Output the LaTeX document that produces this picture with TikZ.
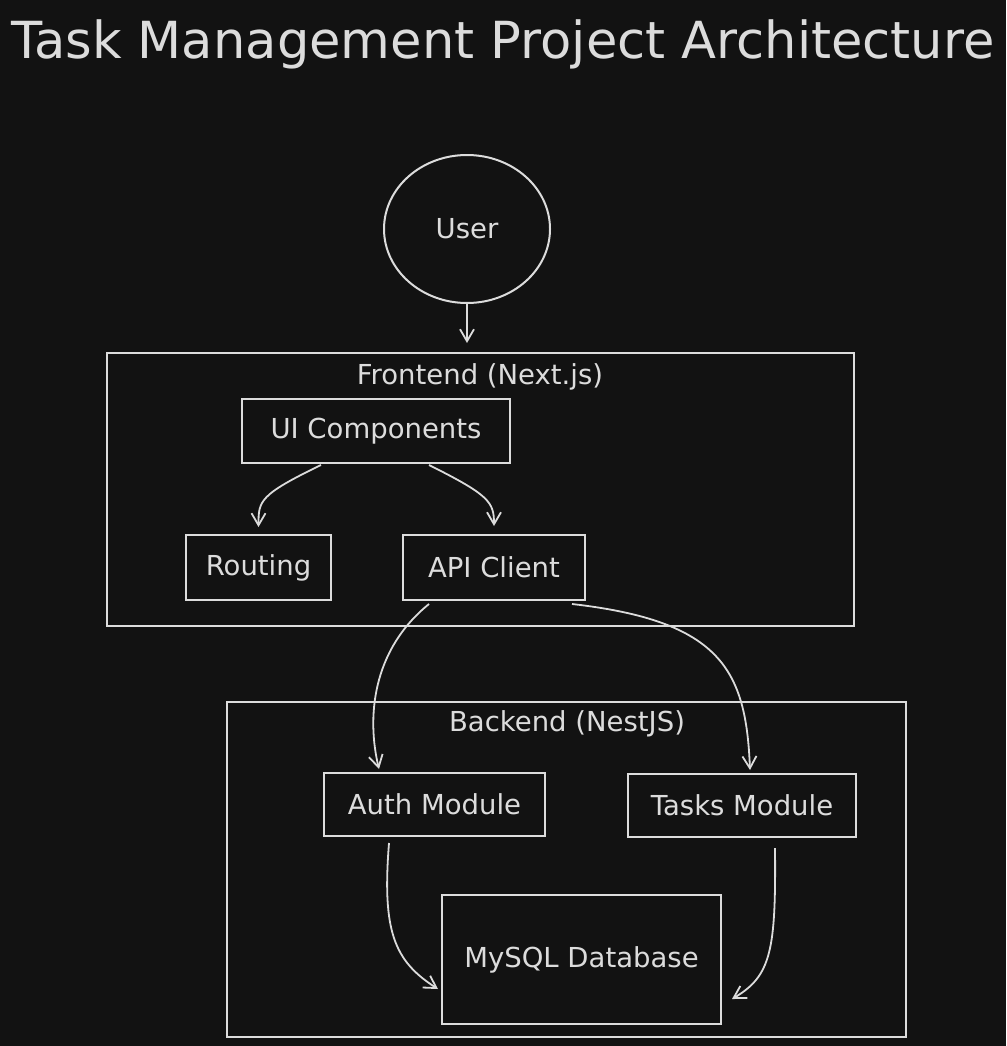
\documentclass[tikz,border=0pt]{standalone}
\usepackage{fontspec}
\usepackage{graphicx}
\setmainfont{DejaVu Sans}
\usetikzlibrary{arrows.meta,shapes.geometric}
\definecolor{bgcol}{HTML}{121212}
\definecolor{inkcol}{HTML}{DCDCDC}
\tikzset{
  box/.style={draw=inkcol, line width=2pt, rectangle, inner sep=0pt, text=inkcol, font=\fontsize{27.5}{32}\selectfont},
  container/.style={draw=inkcol, line width=2pt, rectangle, inner sep=0pt},
  lbl/.style={text=inkcol, inner sep=0pt, font=\fontsize{27.5}{32}\selectfont},
  conn/.style={draw=inkcol, line width=1.8pt, -{Straight Barb[length=12pt,width=14pt,line width=1.8pt]}},
}
\begin{document}
\begin{tikzpicture}[x=1pt,y=-1pt]
\useasboundingbox[fill=bgcol] (0,0) rectangle (1006,1046);
% title
\node[text=inkcol, inner sep=0pt] (title) at (503,44) {\resizebox{983pt}{!}{Task Management Project Architecture}};
% user
\node[ellipse, draw=inkcol, line width=2pt, minimum width=166pt, minimum height=148pt, text=inkcol, font=\fontsize{27.5}{32}\selectfont] (user) at (467,229) {User};
% frontend container
\node[container, minimum width=747pt, minimum height=273pt] (fe) at (480.5,489.5) {};
\node[lbl] (felab) at (480,377) {Frontend (Next.js)};
\node[box, minimum width=268pt, minimum height=64pt] (ui) at (376,431) {UI Components};
\node[box, minimum width=145pt, minimum height=65pt] (routing) at (258.5,567.5) {Routing};
\node[box, minimum width=182pt, minimum height=65pt] (api) at (494,567.5) {API Client};
% backend container
\node[container, minimum width=679pt, minimum height=335pt] (be) at (566.5,869.5) {};
\node[lbl] (belab) at (567,724) {Backend (NestJS)};
\node[box, minimum width=221pt, minimum height=63pt] (auth) at (434.5,804.5) {Auth Module};
\node[box, minimum width=228pt, minimum height=63pt] (tasks) at (742,805.5) {Tasks Module};
\node[box, minimum width=279pt, minimum height=129pt] (db) at (581.5,959.5) {MySQL Database};
% connectors
\coordinate (feIn) at (467,343);
\draw[conn] (user.south) -- (feIn);
\draw[conn] ([xshift=80pt,yshift=-1pt]ui.south west) .. controls +(-62,30) and +(0,-26) .. ([yshift=7pt]routing.north);
\draw[conn] ([xshift=188pt,yshift=-1pt]ui.south west) .. controls +(60,30) and +(0,-24) .. ([yshift=8pt]api.north);
\draw[conn] ([xshift=27pt,yshift=-3pt]api.south west) .. controls +(-58,47) and +(-12,-50) .. ([xshift=56pt,yshift=3pt]auth.north west);
\draw[conn] ([xshift=-14pt,yshift=-3pt]api.south east) .. controls +(149,17) and +(-4,-100) .. ([xshift=8pt,yshift=3pt]tasks.north);
\draw[conn] ([xshift=66pt,yshift=-6pt]auth.south west) .. controls +(-7,88) and +(-44,-28) .. ([xshift=-3pt,yshift=36pt]db.south west);
\draw[conn] ([xshift=148pt,yshift=-10pt]tasks.south west) .. controls +(1,103) and +(39,-23) .. ([xshift=10pt,yshift=26pt]db.south east);
\end{tikzpicture}
\end{document}
